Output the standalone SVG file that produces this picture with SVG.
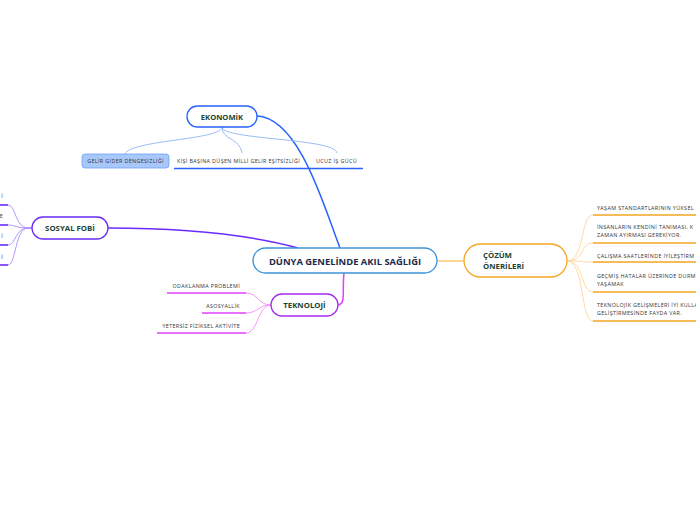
<svg xmlns="http://www.w3.org/2000/svg" width="696" height="520" viewBox="0 0 696 520">
<style>
.node{fill:#fff;stroke-width:1.3}
.lbl{font-family:"Open Sans","Liberation Sans",sans-serif;font-weight:bold;fill:#1b4332}
.sm{font-family:"Open Sans","Liberation Sans",sans-serif;font-size:5.4px;letter-spacing:0.35px;fill:#333}
.thin{fill:none;stroke-width:0.9}
</style>
<rect width="696" height="520" fill="#fff"/>
<g id="connectors" fill="none">
  <path d="M257,116 C300,118 325,210 340,248" stroke="#2962ff" stroke-width="1.5"/>
  <path d="M108,228 C190,228 250,235 298,248" stroke="#6a2bff" stroke-width="1.5"/>
  <path d="M344,273 C342,292 346,304 338,305" stroke="#e040fb" stroke-width="1.5"/>
  <path d="M437,261 L464,261" stroke="#ffc773" stroke-width="1.5"/>
  <path class="thin" d="M222,127 C222,140 130,140 125,154" stroke="#8fb3f5"/>
  <path class="thin" d="M222,127 C222,140 240,138 242,153" stroke="#8fb3f5"/>
  <path class="thin" d="M222,127 C222,140 335,138 337,153" stroke="#8fb3f5"/>
  <path class="thin" d="M32,228 L28,228 C15,228 16,205 8,205" stroke="#a98aff"/>
  <path class="thin" d="M32,228 L28,228 C15,228 16,225 8,225" stroke="#a98aff"/>
  <path class="thin" d="M32,228 L28,228 C15,228 16,245 8,245" stroke="#a98aff"/>
  <path class="thin" d="M32,228 L28,228 C15,228 16,265 8,265" stroke="#a98aff"/>
  <path class="thin" d="M271,305 C258,305 258,293 246,293" stroke="#f38cf8"/>
  <path class="thin" d="M271,305 C258,305 258,313 246,313" stroke="#f38cf8"/>
  <path class="thin" d="M271,305 C258,305 258,333 246,333" stroke="#f38cf8"/>
  <path class="thin" d="M567,261 C585,261 580,215 593,215" stroke="#ffd699"/>
  <path class="thin" d="M567,261 C585,261 580,243 593,243" stroke="#ffd699"/>
  <path class="thin" d="M567,261 C585,261 580,262 593,262" stroke="#ffd699"/>
  <path class="thin" d="M567,261 C585,261 580,292 593,292" stroke="#ffd699"/>
  <path class="thin" d="M567,261 C585,261 580,321 593,321" stroke="#ffd699"/>
</g>
<g id="central">
  <rect class="node" x="253" y="248" width="184" height="25" rx="12.5" stroke="#3d93db"/>
  <text x="345" y="264.5" text-anchor="middle" font-family="Open Sans, Liberation Sans, sans-serif" font-weight="bold" font-size="9.4" fill="#1c2a4a">DÜNYA GENELİNDE AKIL SAĞLIĞI</text>
</g>
<g id="ekonomik">
  <rect class="node" x="187" y="106" width="70" height="21" rx="10.5" stroke="#2962ff"/>
  <text class="lbl" x="222" y="119.5" text-anchor="middle" font-size="7.6">EKONOMİK</text>
</g>
<g id="gelir-gider">
  <rect x="82" y="154" width="87" height="14" rx="3" fill="#a9c8fa" stroke="#6d9ff2" stroke-width="0.8"/>
  <text class="sm" x="125.5" y="163" text-anchor="middle">GELİR GİDER DENGESİZLİĞİ</text>
</g>
<g id="kisi-basina">
  <text class="sm" x="177" y="163">KİŞİ BAŞINA DÜŞEN MİLLİ GELİR EŞİTSİZLİĞİ</text>
  <line x1="174" y1="168.5" x2="306" y2="168.5" stroke="#2962ff" stroke-width="1.6"/>
</g>
<g id="ucuz-is">
  <text class="sm" x="316" y="163">UCUZ İŞ GÜCÜ</text>
  <line x1="306" y1="168.5" x2="363" y2="168.5" stroke="#2962ff" stroke-width="1.6"/>
</g>
<g id="sosyal-fobi">
  <rect class="node" x="32" y="217" width="76" height="22" rx="11" stroke="#6a2bff"/>
  <text class="lbl" x="70" y="231" text-anchor="middle" font-size="7.8">SOSYAL FOBİ</text>
</g>
<g id="sf-1"><text class="sm" x="3" y="197.5" text-anchor="end">İ</text><line x1="0" y1="205" x2="8" y2="205" stroke="#6a2bff" stroke-width="1.6"/></g>
<g id="sf-2"><text class="sm" x="3" y="217.5" text-anchor="end">E</text><line x1="0" y1="225" x2="8" y2="225" stroke="#6a2bff" stroke-width="1.6"/></g>
<g id="sf-3"><text class="sm" x="3" y="238" text-anchor="end">İ</text><line x1="0" y1="245" x2="8" y2="245" stroke="#6a2bff" stroke-width="1.6"/></g>
<g id="sf-4"><text class="sm" x="3" y="258.5" text-anchor="end">İ</text><line x1="0" y1="265" x2="8" y2="265" stroke="#6a2bff" stroke-width="1.6"/></g>
<g id="teknoloji">
  <rect class="node" x="271" y="294" width="67" height="22" rx="11" stroke="#a72cf0"/>
  <text class="lbl" x="304.5" y="308" text-anchor="middle" font-size="7.8">TEKNOLOJİ</text>
</g>
<g id="odaklanma">
  <text class="sm" x="240" y="288" text-anchor="end">ODAKLANMA PROBLEMİ</text>
  <line x1="167" y1="293" x2="246" y2="293" stroke="#e040fb" stroke-width="1.6"/>
</g>
<g id="asosyallik">
  <text class="sm" x="240" y="308" text-anchor="end">ASOSYALLİK</text>
  <line x1="202" y1="313" x2="246" y2="313" stroke="#e040fb" stroke-width="1.6"/>
</g>
<g id="yetersiz">
  <text class="sm" x="240" y="328" text-anchor="end">YETERSİZ FİZİKSEL AKTİVİTE</text>
  <line x1="157" y1="333" x2="246" y2="333" stroke="#e040fb" stroke-width="1.6"/>
</g>
<g id="cozum">
  <rect class="node" x="464" y="244" width="103" height="33" rx="16.5" stroke="#f5a623"/>
  <text class="lbl" x="483" y="258" font-size="7.8">ÇÖZÜM</text>
  <text class="lbl" x="483" y="269" font-size="7.8">ÖNERİLERİ</text>
</g>
<g id="cz-1">
  <text class="sm" x="597" y="210">YAŞAM STANDARTLARININ YÜKSEL</text>
  <line x1="593" y1="215" x2="696" y2="215" stroke="#f5a623" stroke-width="1.6"/>
</g>
<g id="cz-2">
  <text class="sm" x="597" y="229">İNSANLARIN KENDİNİ TANIMASI, K</text>
  <text class="sm" x="597" y="237">ZAMAN AYIRMASI GEREKİYOR.</text>
  <line x1="593" y1="243" x2="696" y2="243" stroke="#f5a623" stroke-width="1.6"/>
</g>
<g id="cz-3">
  <text class="sm" x="597" y="258">ÇALIŞMA SAATLERİNDE İYİLEŞTİRM</text>
  <line x1="593" y1="262" x2="696" y2="262" stroke="#f5a623" stroke-width="1.6"/>
</g>
<g id="cz-4">
  <text class="sm" x="597" y="277.5">GEÇMİŞ HATALAR ÜZERİNDE DURM</text>
  <text class="sm" x="597" y="286">YAŞAMAK</text>
  <line x1="593" y1="292" x2="696" y2="292" stroke="#f5a623" stroke-width="1.6"/>
</g>
<g id="cz-5">
  <text class="sm" x="597" y="307">TEKNOLOJİK GELİŞMELERİ İYİ KULLA</text>
  <text class="sm" x="597" y="315">GELİŞTİRMESİNDE FAYDA VAR.</text>
  <line x1="593" y1="321" x2="696" y2="321" stroke="#f5a623" stroke-width="1.6"/>
</g>
</svg>
